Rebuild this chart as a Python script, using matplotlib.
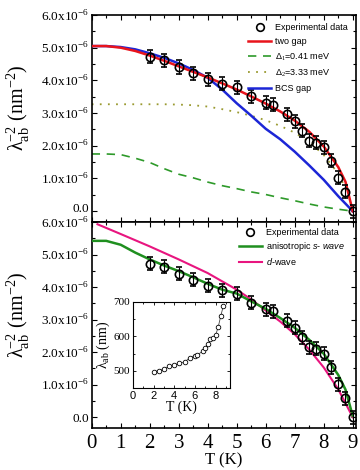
import numpy as np
import matplotlib
matplotlib.use("Agg")
import matplotlib.pyplot as plt
import matplotlib.transforms as mtransforms
from matplotlib.ticker import MultipleLocator, FuncFormatter
from matplotlib.lines import Line2D

plt.rcParams['font.family'] = ['Liberation Serif', 'DejaVu Serif']
plt.rcParams['mathtext.fontset'] = 'custom'
plt.rcParams['mathtext.rm'] = 'Liberation Serif'
plt.rcParams['mathtext.it'] = 'Liberation Sans:italic'
plt.rcParams['mathtext.bf'] = 'Liberation Serif:bold'

# datos experimentales (lambda^-2 en unidades de 1e-6 nm^-2)
T_exp = [2, 2.5, 3, 3.5, 4, 4.5, 5, 5.5, 6, 6.25, 6.75, 7, 7.25, 7.5, 7.75, 8, 8.25, 8.5, 8.75, 9]
lam2_exp = [4.72, 4.62, 4.41, 4.22, 4.04, 3.90, 3.79, 3.52, 3.32, 3.25, 2.97, 2.75, 2.46, 2.15, 2.10, 1.95, 1.54, 1.02, 0.59, 0.0]
lam2_err = [0.2, 0.2, 0.2, 0.2, 0.2, 0.2, 0.2, 0.2, 0.2, 0.2, 0.2, 0.2, 0.2, 0.2, 0.2, 0.2, 0.2, 0.2, 0.2, 0.2]

# ajustes panel superior
T_fit = [0, 0.5, 1, 1.5, 2, 2.5, 3, 3.5, 4, 4.5, 5, 5.5, 6, 6.5, 7, 7.5, 8, 8.5, 8.75, 9]
two_gap = [5.05, 5.05, 5.0, 4.9, 4.76, 4.6, 4.43, 4.26, 4.09, 3.91, 3.72, 3.51, 3.29, 3.05, 2.77, 2.43, 1.98, 1.35, 0.9, 0.0]
bcs_gap = [5.05, 5.05, 5.02, 4.95, 4.83, 4.69, 4.52, 4.32, 4.08, 3.72, 3.30, 2.92, 2.52, 2.20, 1.82, 1.40, 0.96, 0.46, 0.23, 0.0]
delta1 = [1.75, 1.75, 1.73, 1.62, 1.49, 1.30, 1.13, 1.02, 0.89, 0.78, 0.69, 0.59, 0.51, 0.41, 0.32, 0.22, 0.13, 0.06, 0.03, 0.0]
delta2 = [3.27, 3.27, 3.27, 3.27, 3.27, 3.27, 3.26, 3.24, 3.20, 3.12, 3.03, 2.92, 2.78, 2.61, 2.40, 2.12, 1.72, 1.15, 0.70, 0.0]

# ajustes panel inferior
s_wave = [5.42, 5.42, 5.30, 5.06, 4.85, 4.66, 4.49, 4.30, 4.10, 3.92, 3.80, 3.56, 3.33, 3.05, 2.75, 2.38, 1.95, 1.30, 0.85, 0.04]
T_dw = [0.2, 1, 2, 3, 4, 5, 5.5, 6, 6.5, 7, 7.5, 8, 8.5, 9]
d_wave = [5.93, 5.63, 5.25, 4.85, 4.43, 3.92, 3.62, 3.28, 2.94, 2.55, 2.08, 1.53, 0.86, 0.0]

# inset: lambda_ab (nm)
T_ins = T_exp[:19]
lam_ins = [497, 500, 505, 513, 517, 522, 525, 538, 543, 546, 557, 567, 577, 591, 595, 603, 626, 658, 688]

fig = plt.figure(figsize=(3.6, 4.7), dpi=100)
ax1 = fig.add_axes([0.2547, 0.5277, 0.734, 0.4404])
ax2 = fig.add_axes([0.2547, 0.0894, 0.734, 0.4383])


def fmt_y(v, pos):
    if abs(v) < 1e-9:
        return '0.0'
    return '%.1fx10$^{-6}$' % v


for ax in (ax1, ax2):
    ax.set_xlim(0, 9.11)
    ax.set_ylim(-0.33, 6.0)
    ax.xaxis.set_major_locator(MultipleLocator(1))
    ax.xaxis.set_minor_locator(MultipleLocator(0.5))
    ax.yaxis.set_major_locator(MultipleLocator(1))
    ax.yaxis.set_minor_locator(MultipleLocator(0.5))
    ax.yaxis.set_major_formatter(FuncFormatter(fmt_y))
    ax.tick_params(which='both', direction='in', top=True, right=True, width=0.8)
    ax.tick_params(which='major', length=3.5)
    ax.tick_params(which='minor', length=2.5)
    ax.tick_params(axis='y', labelsize=9.5, pad=2)
    ax.tick_params(axis='x', labelsize=15, pad=4)
    for s in ax.spines.values():
        s.set_linewidth(1.2)
    ax.set_ylabel(r'λ$^{-2}_{\mathrm{ab}}$ (nm$^{-2}$)', fontsize=14.5)
    ax.yaxis.set_label_coords(-0.225, 0.55)

ax1.tick_params(axis='x', labelbottom=False)

exp_handle = Line2D([], [], ls='none', marker='o', mfc='none', mec='black', ms=5.5, mew=1.2)

# panel superior
ax1.errorbar(T_exp, lam2_exp, yerr=lam2_err, fmt='o', mfc='none', mec='black', ecolor='black',
             ms=6, mew=1.2, elinewidth=0.8, capsize=2.5, capthick=0.8, zorder=5)
l1, = ax1.plot(T_fit, two_gap, color='#e8141c', lw=1.8, zorder=4)
l2, = ax1.plot(T_fit, delta1, color='#2e9a2a', lw=1.2, ls=(0, (5, 4)))
l3, = ax1.plot(T_fit, delta2, color='#9a9a30', lw=1.3, ls=(0, (1, 3.5)))
l4, = ax1.plot(T_fit, bcs_gap, color='#1c26d6', lw=1.8, zorder=3)
ax1.legend([exp_handle, l1, l2, l3, l4],
           ['Experimental data', 'two gap', 'Δ$_1$=0.41 meV', 'Δ$_2$=3.33 meV', 'BCS gap'],
           loc='upper right', frameon=False, prop={'family': 'Liberation Sans', 'size': 6.5},
           handlelength=2.6, handletextpad=0.4, labelspacing=0.55, borderaxespad=0.5,
           bbox_to_anchor=(1.0, 1.0))

# panel inferior
ax2.errorbar(T_exp, lam2_exp, yerr=lam2_err, fmt='o', mfc='none', mec='black', ecolor='black',
             ms=6, mew=1.2, elinewidth=0.8, capsize=2.5, capthick=0.8, zorder=5)
m1, = ax2.plot(T_fit, s_wave, color='#1f8f1f', lw=1.8, zorder=4)
m2, = ax2.plot(T_dw, d_wave, color='#e8157f', lw=1.5, zorder=3)
ax2.legend([exp_handle, m1, m2],
           ['Experimental data', r'anisotropic $\mathit{s}$- $\mathit{wave}$', r'$\mathit{d}$-wave'],
           loc='upper right', frameon=False, prop={'family': 'Liberation Sans', 'size': 6.5},
           handlelength=2.6, handletextpad=0.4, labelspacing=0.3, borderaxespad=0.3,
           bbox_to_anchor=(0.98, 1.0))
ax2.set_xlabel('T (K)', fontsize=12, labelpad=0)

# inset
axin = fig.add_axes([0.3694, 0.1745, 0.2694, 0.183])
axin.plot(T_ins, lam_ins, '-o', color='#444444', lw=0.6, ms=3.3, mfc='white', mec='black', mew=0.6)
axin.set_xlim(0, 9.4)
axin.set_ylim(450, 700)
axin.xaxis.set_major_locator(MultipleLocator(2))
axin.xaxis.set_minor_locator(MultipleLocator(1))
axin.yaxis.set_major_locator(MultipleLocator(100))
axin.yaxis.set_minor_locator(MultipleLocator(50))
axin.tick_params(which='both', direction='in', top=True, right=True, width=0.6, labelsize=8, pad=2)
axin.tick_params(which='major', length=2.5)
axin.tick_params(which='minor', length=1.5)
for lab in axin.get_xticklabels():
    lab.set_family('Liberation Sans')
for s in axin.spines.values():
    s.set_linewidth(0.8)
axin.set_ylabel(r'λ$_{\mathrm{ab}}$ (nm)', fontsize=10, labelpad=1)
axin.set_xlabel('T (K)', fontsize=10, labelpad=0)

# subimos un poco el "0.0" del panel superior para que no pise al 6.0 de abajo
fig.canvas.draw()
for tick in ax1.yaxis.get_major_ticks():
    if abs(tick.get_loc()) < 1e-9:
        lab = tick.label1
        lab.set_transform(lab.get_transform() + mtransforms.ScaledTranslation(0, 3 / 72, fig.dpi_scale_trans))

plt.savefig("out.png", dpi=100)
